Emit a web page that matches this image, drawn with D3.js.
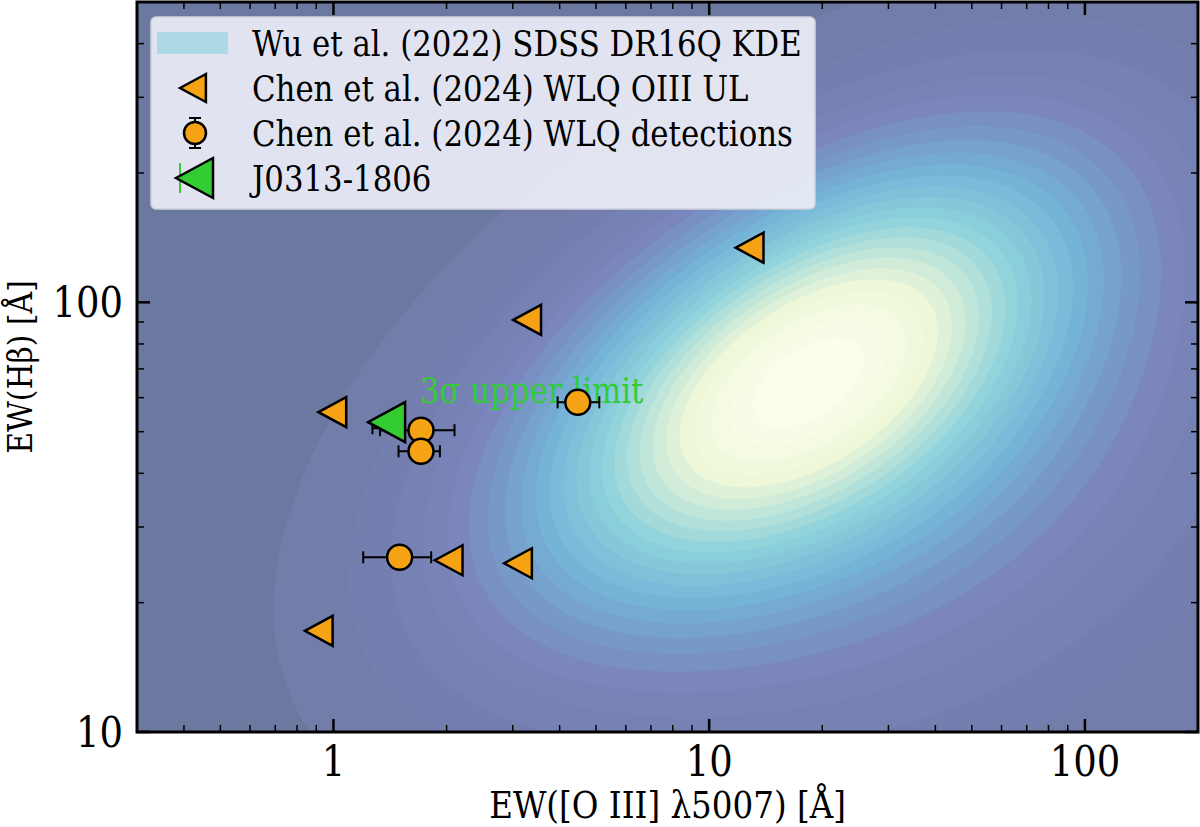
<!DOCTYPE html>
<html><head><meta charset="utf-8">
<script src="https://cdn.jsdelivr.net/npm/d3@7"></script>
<style>body{margin:0;background:#fff}text{font-family:"DejaVu Serif",serif}</style>
</head><body><svg id="c" width="1200" height="827"></svg>
<script>
// upper limits on [O III]
const ulX = [12.9, 3.3, 1.0, 2.04, 3.12, 0.92];
const ulY = [134, 91, 55.5, 25.1, 24.7, 17.2];
// detections with x errors
const detX = [4.47, 1.71, 1.71, 1.50];
const detY = [58.5, 50.4, 45.0, 25.5];
const detXlo = [3.95, 1.33, 1.49, 1.20];
const detXhi = [5.10, 2.10, 1.92, 1.82];
// J0313-1806
const jX = [1.45], jY = [52.6], jXlo = [1.27];
// KDE components in log10 space
const kdeW = [1.0, 0.3];
const kdeMx = [1.24, 1.5];
const kdeMy = [1.84, 1.6];
const kdeSx = [0.5, 0.65];
const kdeSy = [0.35, 0.45];
const kdeRho = [0.55, 0.3];
const xTicks = [1, 10, 100], yTicks = [10, 100];

const svg = d3.select("#c");
const L = 137, R = 1198, T = 2, B = 732;
const x = d3.scaleLog().domain([0.3, 200]).range([L, R]);
const y = d3.scaleLog().domain([10, 500]).range([B, T]);
// condensed serif text
const txt = (sel, px, py, s, size, anchor) => sel.append("text")
  .attr("transform", `translate(${px},${py}) scale(0.88,1)`).attr("font-size", size)
  .attr("text-anchor", anchor || "start").text(s);

svg.append("clipPath").attr("id", "cp").append("rect").attr("x", L).attr("y", T).attr("width", R - L).attr("height", B - T);
const g = svg.append("g").attr("clip-path", "url(#cp)");
g.append("rect").attr("x", L).attr("y", T).attr("width", R - L).attr("height", B - T).attr("fill", "#6b78a0");

const step = 4, nx = Math.ceil((R - L) / step) + 1, ny = Math.ceil((B - T) / step) + 1;
const vals = new Float64Array(nx * ny);
for (let j = 0; j < ny; j++) for (let i = 0; i < nx; i++) {
  const lx = Math.log10(x.invert(L + i * step)), ly = Math.log10(y.invert(T + j * step));
  let v = 0;
  for (let k = 0; k < kdeW.length; k++) {
    const dx = (lx - kdeMx[k]) / kdeSx[k], dy = (ly - kdeMy[k]) / kdeSy[k], r = kdeRho[k];
    v += kdeW[k] * Math.exp(-(dx * dx - 2 * r * dx * dy + dy * dy) / (2 * (1 - r * r)));
  }
  vals[j * nx + i] = v;
}
const vmax = d3.max(vals);
for (let i = 0; i < vals.length; i++) vals[i] /= vmax;
const thr = d3.range(0, 26).map(i => 0.025 + i * 0.039);
const col = d3.scaleLinear().domain([0, 0.15, 0.35, 0.55, 0.8, 1])
  .range(["#727daa", "#7a84bc", "#74b2d6", "#8fd3dc", "#eef8d8", "#fffff0"]);
const cs = d3.contours().size([nx, ny]).thresholds(thr)(vals);
g.append("g").attr("transform", `translate(${L},${T}) scale(${step})`)
  .selectAll("path").data(cs).join("path")
  .attr("d", d3.geoPath()).attr("fill", (d, i) => col(i / (thr.length - 1)));

txt(g, 420, 403, "3σ upper limit", 35).attr("fill", "#33cc33");

const tri = (cx, cy, s) => `M${cx - s},${cy}L${cx + s * 0.85},${cy - s}L${cx + s * 0.85},${cy + s}Z`;
g.selectAll(".ul").data(ulX).join("path").attr("d", (d, i) => tri(x(d), y(ulY[i]), 15))
  .attr("fill", "#f5a214").attr("stroke", "#000").attr("stroke-width", 2.5);
detX.forEach((d, i) => {
  const cy = y(detY[i]);
  g.append("line").attr("x1", x(detXlo[i])).attr("x2", x(detXhi[i])).attr("y1", cy).attr("y2", cy).attr("stroke", "#000").attr("stroke-width", 2);
  [detXlo[i], detXhi[i]].forEach(e => g.append("line").attr("x1", x(e)).attr("x2", x(e)).attr("y1", cy - 6).attr("y2", cy + 6).attr("stroke", "#000").attr("stroke-width", 2));
  g.append("circle").attr("cx", x(d)).attr("cy", cy).attr("r", 12.5).attr("fill", "#f5a214").attr("stroke", "#000").attr("stroke-width", 2.5);
});
jX.forEach((d, i) => {
  const cy = y(jY[i]);
  g.append("line").attr("x1", x(jXlo[i])).attr("x2", x(d)).attr("y1", cy + 6).attr("y2", cy + 6).attr("stroke", "#000").attr("stroke-width", 2);
  g.append("line").attr("x1", x(jXlo[i])).attr("x2", x(jXlo[i])).attr("y1", cy).attr("y2", cy + 12).attr("stroke", "#000").attr("stroke-width", 2);
  g.append("path").attr("d", tri(x(d) - 6, cy, 20)).attr("fill", "#33cc33").attr("stroke", "#000").attr("stroke-width", 2.5);
});

svg.append("rect").attr("x", L).attr("y", T).attr("width", R - L).attr("height", B - T).attr("fill", "none").attr("stroke", "#000").attr("stroke-width", 3);
const minors = (dom) => { const o = []; for (let e = -1; e <= 3; e++) for (let m = 1; m <= 9; m++) { const v = m * 10 ** e; if (v >= dom[0] && v <= dom[1]) o.push([v, m === 1]); } return o; };
const tk = svg.append("g").attr("stroke", "#000");
minors(x.domain()).forEach(([v, maj]) => { const l = maj ? 13 : 7, p = x(v);
  tk.append("line").attr("x1", p).attr("x2", p).attr("y1", B).attr("y2", B - l).attr("stroke-width", maj ? 2.5 : 1.5);
  tk.append("line").attr("x1", p).attr("x2", p).attr("y1", T).attr("y2", T + l).attr("stroke-width", maj ? 2.5 : 1.5); });
minors(y.domain()).forEach(([v, maj]) => { const l = maj ? 13 : 7, p = y(v);
  tk.append("line").attr("y1", p).attr("y2", p).attr("x1", L).attr("x2", L + l).attr("stroke-width", maj ? 2.5 : 1.5);
  tk.append("line").attr("y1", p).attr("y2", p).attr("x1", R).attr("x2", R - l).attr("stroke-width", maj ? 2.5 : 1.5); });
xTicks.forEach(v => txt(svg, x(v), B + 44, String(v), 42, "middle"));
yTicks.forEach(v => txt(svg, L - 14, y(v) + 15, String(v), 42, "end"));
txt(svg, (L + R) / 2, 818, "EW([O III] λ5007) [Å]", 37, "middle");
svg.append("text").attr("transform", `translate(32,${(T + B) / 2}) rotate(-90) scale(0.88,1)`).attr("text-anchor", "middle").attr("font-size", 34).text("EW(Hβ) [Å]");

const lg = svg.append("g");
lg.append("rect").attr("x", 151).attr("y", 17).attr("width", 664).attr("height", 192).attr("rx", 5)
  .attr("fill", "#eceef6").attr("fill-opacity", 0.92).attr("stroke", "#cfd2dc").attr("stroke-width", 1.5);
const labels = ["Wu et al. (2022) SDSS DR16Q KDE", "Chen et al. (2024) WLQ OIII UL", "Chen et al. (2024) WLQ detections", "J0313-1806"];
labels.forEach((t, i) => txt(lg, 252, 56 + i * 45, t, 35));
lg.append("rect").attr("x", 157).attr("y", 32).attr("width", 71).attr("height", 22).attr("fill", "#add8e6");
lg.append("path").attr("d", tri(194, 88, 14)).attr("fill", "#f5a214").attr("stroke", "#000").attr("stroke-width", 2.5);
lg.append("line").attr("x1", 195).attr("x2", 195).attr("y1", 118).attr("y2", 148).attr("stroke", "#000").attr("stroke-width", 2);
lg.append("line").attr("x1", 189).attr("x2", 201).attr("y1", 118).attr("y2", 118).attr("stroke", "#000").attr("stroke-width", 2);
lg.append("line").attr("x1", 189).attr("x2", 201).attr("y1", 148).attr("y2", 148).attr("stroke", "#000").attr("stroke-width", 2);
lg.append("circle").attr("cx", 195).attr("cy", 133).attr("r", 11).attr("fill", "#f5a214").attr("stroke", "#000").attr("stroke-width", 2.5);
lg.append("line").attr("x1", 180).attr("x2", 180).attr("y1", 163).attr("y2", 193).attr("stroke", "#33cc33").attr("stroke-width", 2);
lg.append("path").attr("d", tri(196, 178, 20)).attr("fill", "#33cc33").attr("stroke", "#000").attr("stroke-width", 2.5);
</script></body></html>
